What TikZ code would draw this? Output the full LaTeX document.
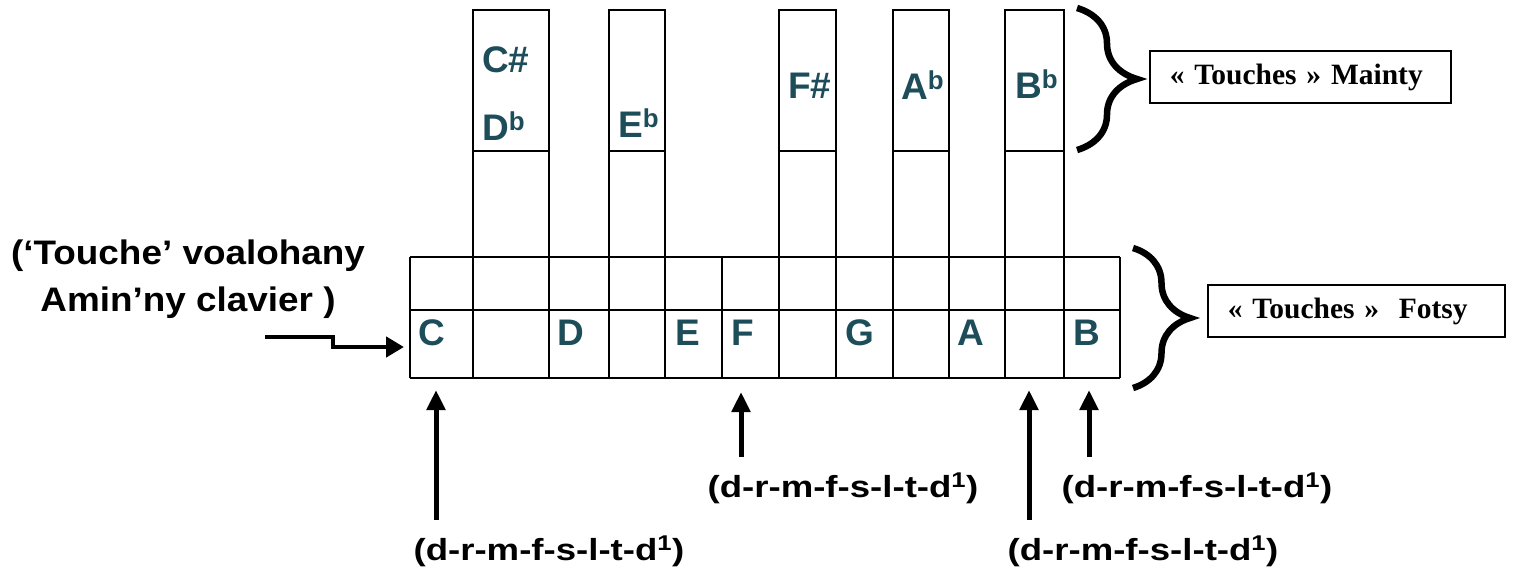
\documentclass[tikz,border=0pt]{standalone}
\usepackage{fontspec}
\setmainfont{Liberation Sans}
\newfontfamily\boxfont{Liberation Serif}
\newfontfamily\notefont[FakeStretch=1.085]{Liberation Sans}
\newfontfamily\solfafont[FakeStretch=1.2]{Liberation Sans}
\usetikzlibrary{arrows.meta,decorations.pathreplacing,positioning,calc}
\definecolor{keyteal}{RGB}{30,77,90}
\tikzset{
  keyline/.style={line width=1.8pt},
  keylbl/.style={anchor=base west, inner sep=0pt, text=keyteal, font=\fontsize{37}{42}\selectfont\bfseries},
  solfa/.style={anchor=base, inner sep=2pt, font=\solfafont\fontsize{30.5}{36}\selectfont\bfseries},
  tagbox/.style={draw, line width=1.6pt, anchor=west, minimum height=52pt, inner xsep=20pt, align=left, font=\boxfont\fontsize{29.5}{34}\selectfont\bfseries},
  upar/.style={line width=5pt, shorten <=14pt, -{Triangle[length=20pt,width=18pt]}},
  sidear/.style={line width=4.5pt, -{Triangle[length=18pt,width=20pt]}},
  bigbrace/.style={decorate, decoration={brace, amplitude=#1}, line width=6.5pt},
}
\begin{document}
\begin{tikzpicture}[x=1pt, y=-1pt]
  \useasboundingbox (0,0) rectangle (1515,571);
  % white keys
  \foreach \x in {410,473,549,609,665,722,779,836,893,949,1005,1064,1120}
    \draw[keyline] (\x,257) -- (\x,378);
  \foreach \y in {257,310,378}
    \draw[keyline] (410,\y) -- (1120,\y);
  % black keys
  \foreach \a/\b in {473/549,609/665,779/836,893/949,1005/1064} {
    \draw[keyline] (\a,10) rectangle (\b,257);
    \draw[keyline] (\a,151) -- (\b,151);
  }
  \node[keylbl] (wC) at (418,345) {C};
  \node[keylbl] (wD) at (557,345) {D};
  \node[keylbl] (wE) at (675,345) {E};
  \node[keylbl] (wF) at (731,345) {F};
  \node[keylbl] (wG) at (845,345) {G};
  \node[keylbl] (wA) at (957,345) {A};
  \node[keylbl] (wB) at (1073,345) {B};
  \node[keylbl] (bCs) at (482,72) {C\#};
  \node[keylbl] (bDb) at (482,140) {D\textsuperscript{b}};
  \node[keylbl] (bEb) at (618,137) {E\textsuperscript{b}};
  \node[keylbl] (bFs) at (788,98) {F\#};
  \node[keylbl] (bAb) at (901,99) {A\textsuperscript{b}};
  \node[keylbl] (bBb) at (1015,98) {B\textsuperscript{b}};
  % braces and boxes
  \draw[bigbrace=60pt] (1077,8) -- (1077,150);
  \draw[bigbrace=57pt] (1133,248) -- (1133,388);
  \node[tagbox, text width=261pt] (mainty) at (1149,77) {« Touches » Mainty};
  \node[tagbox, text width=257pt] (fotsy) at (1207,311) {« Touches »\ \ Fotsy};
  % first key
  \node[anchor=north, inner sep=0pt, align=center, font=\notefont\fontsize{34}{47}\selectfont\bfseries] (first) at (188,240) {(‘Touche’ voalohany\\ Amin’ny clavier )};
  \coordinate (firstin) at (265,337);
  \coordinate (firstkey) at (404,347);
  \draw[sidear] (firstin) -- ++(68,0) |- (firstkey);
  % solfa scales
  \node[solfa] (lbl1) at (549,560) {(d-r-m-f-s-l-t-d\textsuperscript{1})};
  \node[solfa] (lbl2) at (843,497) {(d-r-m-f-s-l-t-d\textsuperscript{1})};
  \node[solfa] (lbl3) at (1143,560) {(d-r-m-f-s-l-t-d\textsuperscript{1})};
  \node[solfa] (lbl4) at (1197,497) {(d-r-m-f-s-l-t-d\textsuperscript{1})};
  \coordinate (tip1) at (436,390);
  \coordinate (tip2) at (741,392);
  \coordinate (tip3) at (1029,390);
  \coordinate (tip4) at (1089,390);
  \draw[upar] (lbl1.north -| tip1) -- (tip1);
  \draw[upar] (lbl2.north -| tip2) -- (tip2);
  \draw[upar] (lbl3.north -| tip3) -- (tip3);
  \draw[upar] (lbl4.north -| tip4) -- (tip4);
\end{tikzpicture}
\end{document}
